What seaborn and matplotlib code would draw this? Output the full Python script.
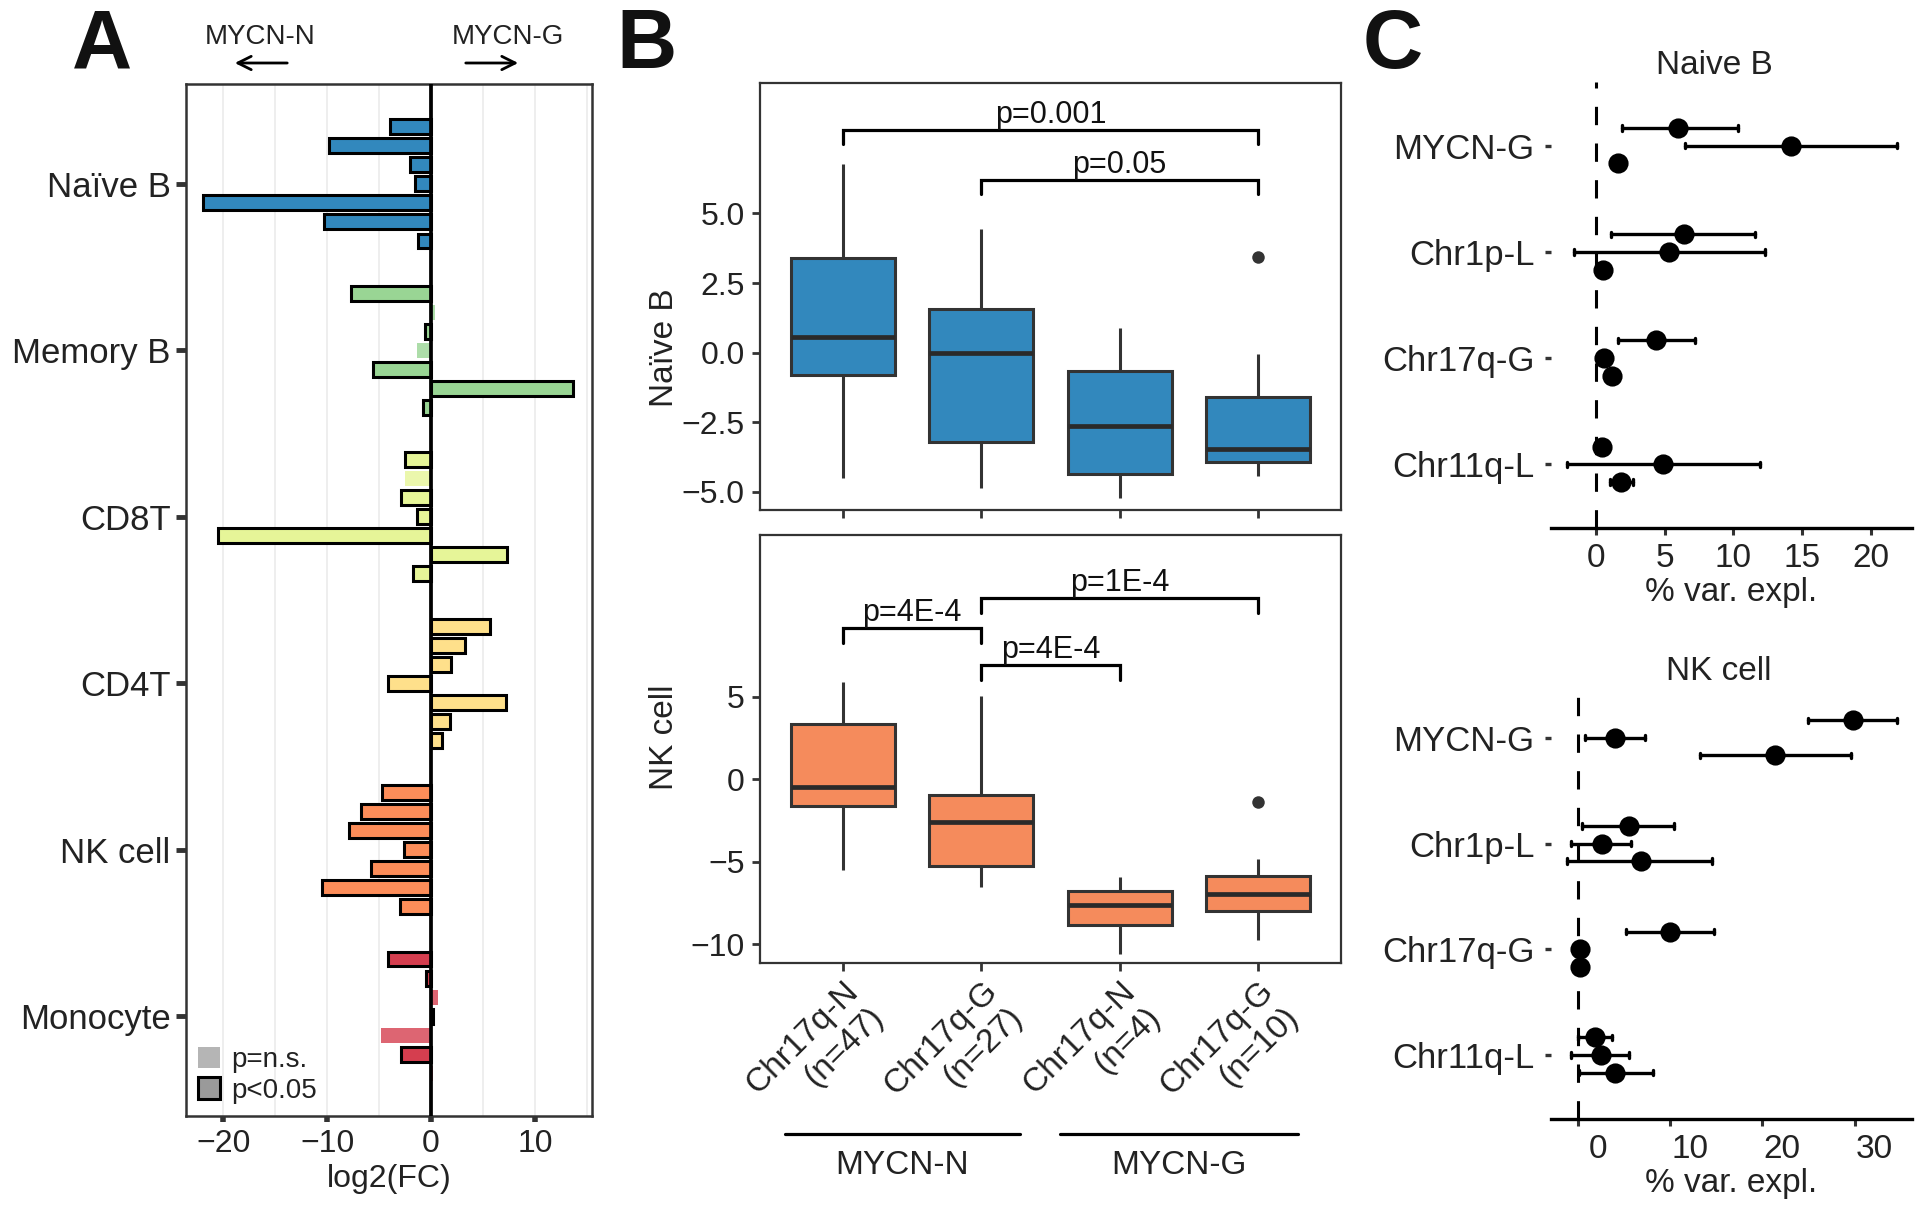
import numpy as np
import pandas as pd
import matplotlib
matplotlib.use("Agg")
import matplotlib.pyplot as plt
import matplotlib.transforms as mtransforms
from matplotlib.patches import Patch
from matplotlib.colors import to_rgba
import seaborn as sns

# ---------------- data ----------------
# Panel A: log2 fold change per cell type, 7 comparisons each
cell_types = ["Naïve B", "Memory B", "CD8T", "CD4T", "NK cell", "Monocyte"]
cell_colors = ["#3288bd", "#99d594", "#e6f598", "#fee08b", "#fc8d59", "#d53e4f"]
comparisons = ["comparison 1", "comparison 2", "comparison 3", "comparison 4",
               "comparison 5", "comparison 6", "comparison 7"]
log2fc_naive_b = [-4.0, -9.8, -2.0, -1.5, -22.0, -10.3, -1.3]
log2fc_memory_b = [-7.7, 0.4, -0.6, -1.4, -5.6, 13.7, -0.8]
log2fc_cd8t = [-2.5, -2.5, -2.9, -1.4, -20.5, 7.35, -1.7]
log2fc_cd4t = [5.7, 3.3, 1.9, -4.15, 7.2, 1.8, 1.07]
log2fc_nk = [-4.7, -6.7, -7.9, -2.6, -5.8, -10.5, -3.0]
log2fc_mono = [-4.15, -0.45, 0.7, 0.2, -4.8, -2.9, 0.2]
sig_naive_b = [1, 1, 1, 1, 1, 1, 1]
sig_memory_b = [1, 0, 1, 0, 1, 1, 1]
sig_cd8t = [1, 0, 1, 1, 1, 1, 1]
sig_cd4t = [1, 1, 1, 1, 1, 1, 1]
sig_nk = [1, 1, 1, 1, 1, 1, 1]
sig_mono = [1, 1, 0, 1, 0, 1, 0]

# Panel B: box plot summaries (whisker low, Q1, median, Q3, whisker high)
box_groups = ["Chr17q-N\n(n=47)", "Chr17q-G\n(n=27)", "Chr17q-N\n(n=4)", "Chr17q-G\n(n=10)"]
nb_whislo = [-4.5, -4.86, -5.22, -4.44]
nb_q1 = [-0.81, -3.21, -4.35, -3.93]
nb_med = [0.56, 0.0, -2.63, -3.45]
nb_q3 = [3.41, 1.56, -0.67, -1.59]
nb_whishi = [6.79, 4.43, 0.89, -0.04]
nb_outlier_group = ["Chr17q-G\n(n=10)"]
nb_outlier_value = [3.44]
nk_whislo = [-5.53, -6.54, -10.59, -9.73]
nk_q1 = [-1.6, -5.24, -8.86, -8.0]
nk_med = [-0.45, -2.61, -7.66, -6.94]
nk_q3 = [3.32, -0.93, -6.81, -5.88]
nk_whishi = [5.9, 5.03, -5.93, -4.87]
nk_outlier_group = ["Chr17q-G\n(n=10)"]
nk_outlier_value = [-1.41]
nb_pairs = [(0, 3), (1, 3)]
nb_heights = [7.99, 6.2]
nb_pvals = ["p=0.001", "p=0.05"]
nk_pairs = [(0, 1), (1, 3), (1, 2)]
nk_heights = [9.15, 11.0, 6.91]
nk_pvals = ["p=4E-4", "p=1E-4", "p=4E-4"]

# Panel C: % variance explained (estimate, low, high), 3 series per feature
features = ["MYCN-G", "Chr1p-L", "Chr17q-G", "Chr11q-L"]
series = ["series 1", "series 2", "series 3"]
cnb_est = [[6.0, 14.2, 1.6], [6.4, 5.3, 0.5], [4.4, 0.6, 1.15], [0.45, 4.9, 1.85]]
cnb_lo = [[1.9, 6.5, 1.2], [1.1, -1.6, 0.2], [1.6, 0.3, 0.8], [0.1, -2.15, 1.05]]
cnb_hi = [[10.3, 21.9, 2.0], [11.6, 12.3, 0.9], [7.2, 0.9, 1.5], [0.8, 11.9, 2.7]]
cnk_est = [[29.8, 4.0, 21.4], [5.6, 2.6, 6.9], [9.96, 0.3, 0.25], [1.9, 2.5, 4.1]]
cnk_lo = [[24.9, 0.75, 13.3], [0.5, -0.7, -1.1], [5.2, 0.3, 0.25], [0.0, -0.7, 0.1]]
cnk_hi = [[34.6, 7.3, 29.6], [10.4, 5.8, 14.6], [14.8, 0.3, 0.25], [3.7, 5.6, 8.2]]

# ---------------- style ----------------
sns.set_theme(style="white")
plt.rcParams["font.family"] = ["Liberation Sans", "DejaVu Sans"]
TXT = "#222222"
plt.rcParams["text.color"] = TXT
plt.rcParams["axes.labelcolor"] = TXT
plt.rcParams["xtick.color"] = TXT
plt.rcParams["ytick.color"] = TXT

W, H = 1920, 1208
fig = plt.figure(figsize=(W / 100, H / 100), dpi=100, facecolor="white")


def rect(l, t, r, b):
    return [l / W, 1 - b / H, (r - l) / W, (b - t) / H]


# ---------------- Panel A ----------------
fc_lists = [log2fc_naive_b, log2fc_memory_b, log2fc_cd8t, log2fc_cd4t, log2fc_nk, log2fc_mono]
sig_lists = [sig_naive_b, sig_memory_b, sig_cd8t, sig_cd4t, sig_nk, sig_mono]
rowsA = []
for cell, vals, sigs in zip(cell_types, fc_lists, sig_lists):
    for comp, v, s in zip(comparisons, vals, sigs):
        rowsA.append({"cell": cell, "comparison": comp, "log2FC": v, "sig": s})
dfA = pd.DataFrame(rowsA)

axA = fig.add_axes(rect(186, 84, 592, 1116))
sns.barplot(data=dfA, x="log2FC", y="cell", hue="comparison", order=cell_types,
            hue_order=comparisons, orient="y", width=0.8, gap=0.22, dodge=True,
            errorbar=None, palette=["#999999"] * 7, legend=False, ax=axA)
slot = 0.8 / len(comparisons)
for p in axA.patches:
    yc = p.get_y() + p.get_height() / 2
    ci = int(round(yc))
    hj = int(round((yc - ci) / slot + (len(comparisons) - 1) / 2))
    col = cell_colors[ci]
    if sig_lists[ci][hj]:
        p.set_facecolor(col)
        p.set_edgecolor("black")
        p.set_linewidth(2.2)
    else:
        p.set_facecolor(to_rgba(col, 0.8))
        p.set_edgecolor("none")
        p.set_linewidth(0)
    p.set_zorder(2)

axA.set_xlim(-23.6, 15.5)
axA.set_ylim(5.6, -0.6)
axA.set_xticks([-20, -10, 0, 10])
axA.set_xticks([-15, -5, 5, 15], minor=True)
axA.grid(axis="x", which="both", color="#ebebeb", lw=1.2, zorder=0)
axA.grid(axis="y", visible=False)
axA.set_axisbelow(True)
axA.axvline(0, color="black", lw=2.7, zorder=3)
for s in axA.spines.values():
    s.set_color("#333333")
    s.set_linewidth(1.8)
axA.tick_params(axis="y", length=7, width=3.5, color="#333333", pad=4, labelsize=25, left=True)
axA.tick_params(axis="x", which="major", length=4, width=4, color="#333333", pad=5,
                labelsize=23, bottom=True)
axA.tick_params(axis="x", which="minor", length=0)
axA.set_xlabel("log2(FC)", fontsize=23, labelpad=4)
axA.set_ylabel("")
handles = [Patch(facecolor="#b5b5b5", edgecolor="none", label="p=n.s."),
           Patch(facecolor="#9a9a9a", edgecolor="black", linewidth=2.2, label="p<0.05")]
axA.legend(handles=handles, loc="lower left", bbox_to_anchor=(0.03, 0.012), frameon=False,
           fontsize=20, handlelength=0.8, handleheight=0.8, handletextpad=0.4,
           labelspacing=0.15, borderpad=0, borderaxespad=0)

fig.text(260 / W, 1 - 37 / H, "MYCN-N", ha="center", va="center", fontsize=20)
fig.text(508 / W, 1 - 37 / H, "MYCN-G", ha="center", va="center", fontsize=20)
axA.annotate("", xy=(232 / W, 1 - 63 / H), xytext=(290 / W, 1 - 63 / H),
             xycoords="figure fraction", textcoords="figure fraction",
             arrowprops=dict(arrowstyle="->", lw=2, color="black", mutation_scale=24))
axA.annotate("", xy=(521 / W, 1 - 63 / H), xytext=(463 / W, 1 - 63 / H),
             xycoords="figure fraction", textcoords="figure fraction",
             arrowprops=dict(arrowstyle="->", lw=2, color="black", mutation_scale=24))

for letter, xc in [("A", 102), ("B", 646), ("C", 1393)]:
    fig.text(xc / W, 1 - 68 / H, letter, ha="center", va="baseline", fontsize=60,
             fontweight="bold", color="#111111")


# ---------------- Panel B ----------------
def five_num_df(lo, q1, md, q3, hi):
    rows = []
    for g, a, b, c, d, e in zip(box_groups, lo, q1, md, q3, hi):
        for v in (a, b, c, d, e):
            rows.append({"group": g, "value": v})
    return pd.DataFrame(rows)


def draw_box_panel(ax, df, out_df, color, pairs, heights, pvals, tip):
    sns.boxplot(data=df, x="group", y="value", order=box_groups, whis=np.inf, width=0.75,
                color=color, saturation=1, linecolor="#333333", linewidth=2.2,
                showcaps=False, fliersize=0,
                medianprops=dict(linewidth=3.4, color="#2a2a2a"), ax=ax)
    sns.stripplot(data=out_df, x="group", y="value", order=box_groups, jitter=False,
                  color="#333333", size=9, ax=ax)
    for (i, j), h, lab in zip(pairs, heights, pvals):
        ax.plot([i, i, j, j], [h - tip, h, h, h - tip], color="black", lw=2.3,
                solid_joinstyle="miter", clip_on=False)
        ax.text((i + j) / 2, h, lab, ha="center", va="bottom", fontsize=22, color="#111111")
    ax.set_xlim(-0.6, 3.6)
    for s in ax.spines.values():
        s.set_color("#333333")
        s.set_linewidth(1.6)
    ax.tick_params(axis="y", length=6, width=2, color="#333333", pad=5, labelsize=23, left=True)
    ax.tick_params(axis="x", length=6, width=2, color="#333333", pad=3, labelsize=22,
                   bottom=True)
    ax.set_xlabel("")


axB1 = fig.add_axes(rect(760, 83, 1341, 510))
dfB1 = five_num_df(nb_whislo, nb_q1, nb_med, nb_q3, nb_whishi)
outB1 = pd.DataFrame({"group": nb_outlier_group, "value": nb_outlier_value})
draw_box_panel(axB1, dfB1, outB1, "#3288bd", nb_pairs, nb_heights, nb_pvals, 0.5)
axB1.set_ylim(-5.66, 9.69)
axB1.set_yticks([-5, -2.5, 0, 2.5, 5])
axB1.set_yticklabels(["\u22125.0", "\u22122.5", "0.0", "2.5", "5.0"])
axB1.tick_params(axis="x", labelbottom=False)
axB1.set_ylabel("Naïve B", fontsize=24)
axB1.yaxis.set_label_coords(-0.138, 0.379)

axB2 = fig.add_axes(rect(760, 535, 1341, 963))
dfB2 = five_num_df(nk_whislo, nk_q1, nk_med, nk_q3, nk_whishi)
outB2 = pd.DataFrame({"group": nk_outlier_group, "value": nk_outlier_value})
draw_box_panel(axB2, dfB2, outB2, "#f58b5c", nk_pairs, nk_heights, nk_pvals, 0.9)
axB2.set_ylim(-11.15, 14.81)
axB2.set_yticks([-10, -5, 0, 5])
axB2.set_yticklabels(["\u221210", "\u22125", "0", "5"])
axB2.set_xticks(range(len(box_groups)))
axB2.set_xticklabels(box_groups, rotation=45, ha="right", rotation_mode="anchor",
                     fontsize=24)
axB2.set_ylabel("NK cell", fontsize=24)
axB2.yaxis.set_label_coords(-0.138, 0.528)

btrans = mtransforms.blended_transform_factory(axB2.transData, fig.transFigure)
for x0, x1, lab in [(-0.42, 1.28, "MYCN-N"), (1.57, 3.29, "MYCN-G")]:
    axB2.plot([x0, x1], [1 - 1134 / H, 1 - 1134 / H], color="black", lw=2.3,
              transform=btrans, clip_on=False)
    axB2.text((x0 + x1) / 2, 1 - 1166 / H, lab, ha="center", va="center", fontsize=24,
              transform=btrans)


# ---------------- Panel C ----------------
def ci_df(est, lo, hi):
    rows = []
    for f, e_row, l_row, h_row in zip(features, est, lo, hi):
        for s, e, l, h in zip(series, e_row, l_row, h_row):
            for v in (l, e, h):
                rows.append({"feature": f, "series": s, "value": v})
    return pd.DataFrame(rows)


def draw_ci_panel(ax, df, xlim, xticks, title, title_xy):
    ax.axvline(0, color="black", lw=2.2, ls=(0, (6, 6)), zorder=0)
    sns.pointplot(data=df, x="value", y="feature", hue="series", order=features,
                  hue_order=series, orient="y", estimator="median", errorbar=("pi", 100),
                  dodge=0.333, linestyle="none", markers="o", markersize=12.5,
                  palette=["black"] * 3, err_kws={"linewidth": 2.4}, capsize=0.05,
                  legend=False, ax=ax)
    ax.set_xlim(*xlim)
    ax.set_xticks(xticks)
    for side in ["left", "top", "right"]:
        ax.spines[side].set_visible(False)
    ax.spines["bottom"].set_color("black")
    ax.spines["bottom"].set_linewidth(2.4)
    ax.tick_params(axis="y", length=4, width=2.4, color="#333333", pad=8, labelsize=25,
                   left=True)
    ax.tick_params(axis="x", length=5, width=2.2, color="#333333", pad=6, labelsize=24,
                   bottom=True)
    ax.set_xlabel("% var. expl.", fontsize=24, labelpad=2)
    ax.set_ylabel("")
    fig.text(title_xy[0] / W, 1 - title_xy[1] / H, title, ha="center", va="center",
             fontsize=24)


axC1 = fig.add_axes(rect(1551, 82, 1912, 528))
draw_ci_panel(axC1, ci_df(cnb_est, cnb_lo, cnb_hi), (-3.28, 23.0), [0, 5, 10, 15, 20],
              "Naive B", (1714, 65))
axC1.set_ylim(3.6, -0.6)

axC2 = fig.add_axes(rect(1551, 687, 1912, 1119))
draw_ci_panel(axC2, ci_df(cnk_est, cnk_lo, cnk_hi), (-2.88, 36.2), [0, 10, 20, 30],
              "NK cell", (1719, 671))
axC2.set_ylim(3.605, -0.48)
shift = mtransforms.ScaledTranslation(0.20, 0, fig.dpi_scale_trans)
for lab in axC2.get_xticklabels():
    lab.set_transform(lab.get_transform() + shift)

fig.savefig("out.png", dpi=100, facecolor="white")
